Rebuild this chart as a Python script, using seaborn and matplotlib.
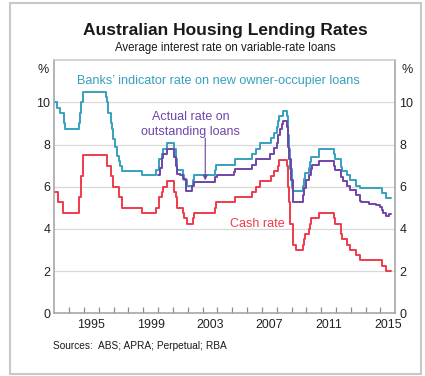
import seaborn as sns
import matplotlib.pyplot as plt
import matplotlib.patches as mpatches
from matplotlib.ticker import FixedLocator

# --- Daten (Jahr als Dezimalzahl, Zinssatz in %) ---
cash_years = [1993.0, 1993.22, 1993.58, 1994.63, 1994.81, 1994.95, 1996.58, 1996.85,
              1996.94, 1997.39, 1997.58, 1998.92, 1999.84, 2000.09, 2000.26, 2000.34,
              2000.59, 2001.1, 2001.18, 2001.26, 2001.68, 2001.76, 2001.93, 2002.35,
              2002.43, 2003.85, 2003.92, 2005.17, 2006.34, 2006.59, 2006.85, 2007.6,
              2007.85, 2008.1, 2008.18, 2008.67, 2008.77, 2008.85, 2008.92, 2009.1,
              2009.27, 2009.77, 2009.84, 2009.92, 2010.17, 2010.27, 2010.34, 2010.84,
              2011.84, 2011.93, 2012.34, 2012.43, 2012.76, 2012.93, 2013.35, 2013.6,
              2015.1, 2015.35, 2015.7]
cash_rate = [5.75, 5.25, 4.75, 5.5, 6.5, 7.5, 7.0, 6.5,
             6.0, 5.5, 5.0, 4.75, 5.0, 5.5, 5.75, 6.0,
             6.25, 5.75, 5.5, 5.0, 4.75, 4.5, 4.25, 4.5,
             4.75, 5.0, 5.25, 5.5, 5.75, 6.0, 6.25, 6.5,
             6.75, 7.0, 7.25, 7.0, 6.0, 5.25, 4.25, 3.25,
             3.0, 3.25, 3.5, 3.75, 4.0, 4.25, 4.5, 4.75,
             4.5, 4.25, 3.75, 3.5, 3.25, 3.0, 2.75, 2.5,
             2.25, 2.0, 2.0]

svr_years = [1993.0, 1993.2, 1993.4, 1993.62, 1993.72, 1994.65, 1994.72, 1994.82,
             1994.95, 1996.45, 1996.55, 1996.65, 1996.8, 1996.9, 1996.97, 1997.1,
             1997.2, 1997.35, 1997.45, 1997.58, 1998.9, 1999.85, 2000.08, 2000.26,
             2000.34, 2000.58, 2001.1, 2001.18, 2001.26, 2001.68, 2001.76, 2001.93,
             2002.35, 2002.43, 2003.85, 2003.92, 2005.17, 2006.34, 2006.59, 2006.85,
             2007.6, 2007.85, 2008.0, 2008.1, 2008.18, 2008.4, 2008.67, 2008.77,
             2008.85, 2008.92, 2009.05, 2009.12, 2009.77, 2009.84, 2009.92, 2010.17,
             2010.27, 2010.34, 2010.84, 2011.84, 2011.93, 2012.34, 2012.43, 2012.76,
             2012.93, 2013.35, 2013.6, 2015.1, 2015.35, 2015.7]
svr_rate = [10.0, 9.75, 9.5, 9.0, 8.75, 9.0, 9.5, 10.0,
            10.5, 10.25, 10.0, 9.5, 9.0, 8.75, 8.25, 7.9,
            7.45, 7.2, 7.0, 6.75, 6.55, 6.8, 7.3, 7.55,
            7.8, 8.05, 7.8, 7.3, 6.8, 6.55, 6.3, 6.05,
            6.3, 6.55, 6.8, 7.05, 7.3, 7.55, 7.8, 8.05,
            8.3, 8.55, 8.85, 9.1, 9.35, 9.6, 9.35, 8.45,
            7.8, 6.85, 5.95, 5.8, 6.05, 6.35, 6.65, 6.9,
            7.15, 7.4, 7.8, 7.55, 7.3, 6.95, 6.75, 6.55,
            6.3, 6.05, 5.95, 5.7, 5.45, 5.45]

actual_years = [2000.0, 2000.1, 2000.25, 2000.35, 2000.6, 2001.1, 2001.2, 2001.3,
                2001.5, 2001.7, 2001.85, 2002.3, 2002.4, 2003.85, 2003.95, 2005.1,
                2005.2, 2006.35, 2006.6, 2007.55, 2007.85, 2008.0, 2008.1, 2008.2,
                2008.35, 2008.45, 2008.7, 2008.78, 2008.85, 2008.95, 2009.07, 2009.1,
                2009.78, 2009.85, 2009.95, 2010.2, 2010.3, 2010.4, 2010.85, 2011.85,
                2011.95, 2012.35, 2012.45, 2012.75, 2012.95, 2013.35, 2013.6, 2013.7,
                2014.2, 2014.7, 2014.95, 2015.1, 2015.2, 2015.35, 2015.55, 2015.7]
actual_rate = [6.55, 6.9, 7.35, 7.55, 7.8, 7.4, 7.0, 6.6,
               6.55, 6.35, 5.8, 6.05, 6.2, 6.45, 6.55, 6.7,
               6.85, 7.05, 7.3, 7.55, 7.85, 8.05, 8.45, 8.75,
               8.95, 9.1, 8.85, 7.9, 7.3, 6.3, 5.35, 5.25,
               5.6, 5.95, 6.3, 6.55, 6.85, 7.05, 7.2, 7.0,
               6.8, 6.45, 6.25, 6.05, 5.85, 5.6, 5.3, 5.25,
               5.2, 5.15, 5.05, 4.9, 4.75, 4.62, 4.7, 4.7]

year_labels = ["1995", "1999", "2003", "2007", "2011", "2015"]
y_ticks = [0, 2, 4, 6, 8, 10]

teal = "#36a0bf"
purple = "#6f45a8"
red = "#ef3b4c"

sns.set_theme(style="white")
plt.rcParams["font.family"] = ["Liberation Sans", "DejaVu Sans"]

fig = plt.figure(figsize=(4.25, 3.76), dpi=100)
ax = fig.add_axes([0.128, 0.167, 0.802, 0.673])

# Rahmen um die ganze Grafik
fig.patches.append(mpatches.Rectangle((0.024, 0.006), 0.967, 0.986, transform=fig.transFigure,
                                      fill=False, edgecolor="#c8c8c8", linewidth=1.5))

for xs, ys, col in [(svr_years, svr_rate, teal),
                    (actual_years, actual_rate, purple),
                    (cash_years, cash_rate, red)]:
    sns.lineplot(x=xs, y=ys, ax=ax, color=col, linewidth=1.4, drawstyle="steps-post")

ax.set_xlim(1993, 2016)
ax.set_ylim(0, 12)

# Achsen
ax.set_yticks(y_ticks)
ax.set_yticklabels([str(t) for t in y_ticks])
ax.tick_params(axis="y", length=0, labelsize=9, pad=3, labelright=True, right=False,
               labelcolor="#222222")
ax.yaxis.grid(True, color="#d9d9d9", linewidth=0.9)
ax.xaxis.grid(False)

ax.xaxis.set_major_locator(FixedLocator([int(l) + 0.5 for l in year_labels]))
ax.set_xticklabels(year_labels)
ax.xaxis.set_minor_locator(FixedLocator(list(range(1994, 2016))))
ax.tick_params(axis="x", which="major", length=0, labelsize=8.9, pad=4, labelcolor="#222222")
ax.tick_params(axis="x", which="minor", direction="in", length=4, width=0.9,
               color="#8c8c8c", bottom=True)

for side in ["left", "right", "top", "bottom"]:
    ax.spines[side].set_color("#a0a0a0")
    ax.spines[side].set_linewidth(1.1)
ax.spines["top"].set_color("#c8c8c8")

ax.text(-0.018, 0.985, "%", transform=ax.transAxes, ha="right", va="top", fontsize=9,
        color="#222222")
ax.text(1.018, 0.985, "%", transform=ax.transAxes, ha="left", va="top", fontsize=9,
        color="#222222")

# Beschriftungen der Linien
ax.text(1994.53, 11.0, "Banks\u2019 indicator rate on new owner-occupier loans",
        color=teal, fontsize=9.1, ha="left", va="center")
ax.text(2002.2, 8.95, "Actual rate on\noutstanding loans", color=purple, fontsize=9,
        ha="center", va="center", linespacing=1.25)
ax.annotate("", xy=(2003.18, 6.3), xytext=(2003.18, 8.3),
            arrowprops=dict(arrowstyle="-|>", color=purple, lw=0.8,
                            mutation_scale=7, shrinkA=0, shrinkB=0))
ax.text(2004.82, 4.22, "Cash rate", color=red, fontsize=9, ha="left", va="center")

fig.text(0.53, 0.918, "Australian Housing Lending Rates", ha="center", va="center",
         fontsize=12.5, fontweight="bold", color="#1a1a1a")
fig.text(0.53, 0.872, "Average interest rate on variable-rate loans", ha="center",
         va="center", fontsize=8.3, color="#1a1a1a")
fig.text(0.125, 0.08, "Sources:  ABS; APRA; Perpetual; RBA", ha="left", va="center",
         fontsize=7.3, color="#1a1a1a")

fig.savefig("out.png", dpi=100)
